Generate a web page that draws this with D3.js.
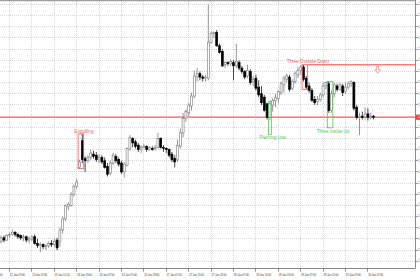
<!DOCTYPE html>
<html><head><meta charset="utf-8">
<script src="https://cdn.jsdelivr.net/npm/d3@7"></script>
<style>html,body{margin:0;padding:0;background:#fff;overflow:hidden}</style>
</head><body>
<svg id="c" width="420" height="280"></svg>
<script>
// ---- data (hourly bars, oldest first) ----
const open = [1.3528,1.3531,1.3529,1.3533,1.3534,1.3536,1.3534,1.3533,1.3531,1.3532,1.3529,1.3530,1.3532,1.3526,1.3524,1.3525,1.3523,1.3524,1.3526,1.3525,1.3529,1.3528,1.3538,1.3548,1.3559,1.3560,1.3570,1.3577,1.3594,1.3618,1.3602,1.3600,1.3603,1.3606,1.3605,1.3601,1.3603,1.3600,1.3595,1.3589,1.3598,1.3604,1.3601,1.3598,1.3590,1.3596,1.3611,1.3620,1.3617,1.3614,1.3610,1.3612,1.3613,1.3610,1.3611,1.3611,1.3612,1.3620,1.3612,1.3611,1.3610,1.3606,1.3602,1.3601,1.3613,1.3625,1.3638,1.3643,1.3649,1.3658,1.3675,1.3678,1.3675,1.3674,1.3674,1.3706,1.3714,1.3715,1.3703,1.3698,1.3686,1.3688,1.3687,1.3688,1.3685,1.3688,1.3683,1.3680,1.3676,1.3680,1.3671,1.3674,1.3666,1.3660,1.3657,1.3651,1.3639,1.3650,1.3654,1.3656,1.3661,1.3668,1.3673,1.3675,1.3665,1.3671,1.3677,1.3681,1.3684,1.3674,1.3667,1.3663,1.3655,1.3653,1.3655,1.3659,1.3667,1.3669,1.3645,1.3660,1.3667,1.3664,1.3667,1.3662,1.3666,1.3669,1.3670,1.3648,1.3639,1.3640,1.3639,1.3642,1.3639,1.3640];
const high = [1.3533,1.3533,1.3534,1.3536,1.3538,1.3537,1.3535,1.3534,1.3534,1.3533,1.3532,1.3533,1.3534,1.3530,1.3527,1.3526,1.3525,1.3528,1.3529,1.3530,1.3531,1.3540,1.3550,1.3561,1.3563,1.3572,1.3579,1.3584,1.3601,1.3624,1.3604,1.3605,1.3610,1.3609,1.3608,1.3606,1.3605,1.3603,1.3598,1.3600,1.3607,1.3606,1.3603,1.3600,1.3599,1.3612,1.3623,1.3621,1.3619,1.3616,1.3614,1.3615,1.3614,1.3613,1.3613,1.3614,1.3625,1.3621,1.3614,1.3612,1.3611,1.3608,1.3605,1.3619,1.3629,1.3643,1.3646,1.3652,1.3661,1.3681,1.3683,1.3680,1.3677,1.3677,1.3740,1.3716,1.3716,1.3717,1.3705,1.3700,1.3689,1.3689,1.3691,1.3690,1.3705,1.3690,1.3685,1.3681,1.3686,1.3682,1.3676,1.3677,1.3672,1.3667,1.3659,1.3652,1.3653,1.3656,1.3660,1.3663,1.3671,1.3676,1.3678,1.3677,1.3673,1.3680,1.3684,1.3686,1.3686,1.3676,1.3670,1.3665,1.3658,1.3658,1.3661,1.3670,1.3671,1.3671,1.3663,1.3670,1.3669,1.3670,1.3669,1.3670,1.3671,1.3672,1.3671,1.3650,1.3643,1.3644,1.3648,1.3647,1.3643,1.3641];
const low = [1.3526,1.3527,1.3528,1.3531,1.3533,1.3532,1.3530,1.3529,1.3528,1.3527,1.3526,1.3528,1.3525,1.3522,1.3518,1.3521,1.3520,1.3522,1.3523,1.3523,1.3520,1.3523,1.3535,1.3546,1.3556,1.3559,1.3568,1.3575,1.3593,1.3598,1.3590,1.3598,1.3601,1.3602,1.3599,1.3598,1.3597,1.3593,1.3586,1.3587,1.3596,1.3598,1.3595,1.3588,1.3585,1.3595,1.3609,1.3612,1.3611,1.3608,1.3607,1.3611,1.3608,1.3609,1.3609,1.3609,1.3611,1.3611,1.3608,1.3607,1.3603,1.3599,1.3594,1.3599,1.3611,1.3621,1.3635,1.3640,1.3645,1.3656,1.3671,1.3672,1.3671,1.3671,1.3672,1.3705,1.3710,1.3702,1.3696,1.3684,1.3683,1.3685,1.3685,1.3672,1.3683,1.3681,1.3678,1.3673,1.3674,1.3668,1.3667,1.3663,1.3657,1.3650,1.3644,1.3637,1.3637,1.3644,1.3648,1.3652,1.3659,1.3661,1.3670,1.3662,1.3663,1.3669,1.3674,1.3677,1.3671,1.3664,1.3661,1.3653,1.3650,1.3650,1.3653,1.3657,1.3664,1.3643,1.3643,1.3657,1.3662,1.3663,1.3658,1.3660,1.3664,1.3666,1.3645,1.3637,1.3623,1.3637,1.3637,1.3636,1.3637,1.3637];
const close = [1.3531,1.3529,1.3533,1.3534,1.3536,1.3534,1.3532,1.3531,1.3532,1.3529,1.3530,1.3532,1.3526,1.3524,1.3525,1.3523,1.3524,1.3526,1.3525,1.3528,1.3522,1.3538,1.3548,1.3560,1.3561,1.3570,1.3577,1.3581,1.3599,1.3601,1.3600,1.3603,1.3607,1.3604,1.3601,1.3603,1.3599,1.3594,1.3588,1.3598,1.3605,1.3600,1.3597,1.3590,1.3597,1.3611,1.3621,1.3616,1.3613,1.3610,1.3612,1.3613,1.3610,1.3612,1.3610,1.3612,1.3620,1.3612,1.3611,1.3610,1.3605,1.3601,1.3599,1.3614,1.3625,1.3638,1.3644,1.3650,1.3658,1.3676,1.3678,1.3675,1.3674,1.3675,1.3706,1.3714,1.3715,1.3703,1.3697,1.3685,1.3688,1.3687,1.3689,1.3685,1.3689,1.3683,1.3680,1.3675,1.3681,1.3670,1.3673,1.3665,1.3659,1.3652,1.3645,1.3639,1.3651,1.3654,1.3657,1.3662,1.3669,1.3674,1.3676,1.3664,1.3671,1.3678,1.3681,1.3684,1.3673,1.3666,1.3663,1.3654,1.3652,1.3655,1.3659,1.3667,1.3670,1.3645,1.3660,1.3668,1.3664,1.3668,1.3661,1.3666,1.3669,1.3671,1.3647,1.3639,1.3640,1.3639,1.3642,1.3639,1.3640,1.3639];

const xTickLabels = ["22 Jan 15:00","22 Jan 23:00","23 Jan 07:00","23 Jan 15:00","23 Jan 23:00","24 Jan 07:00","24 Jan 15:00","24 Jan 23:00","27 Jan 07:00","27 Jan 15:00","27 Jan 23:00","28 Jan 07:00","28 Jan 15:00","28 Jan 23:00","29 Jan 07:00","29 Jan 15:00","29 Jan 23:00","30 Jan 07:00"];
const xTickBars = [-5,3,11,19,27,35,43,51,59,67,75,83,91,99,107,115,123,131];
const priceTicks = [1.3510,1.3520,1.3530,1.3540,1.3550,1.3560,1.3570,1.3580,1.3590,1.3600,1.3610,1.3620,1.3630,1.3640,1.3650,1.3660,1.3670,1.3680,1.3690,1.3700,1.3710,1.3720,1.3730,1.3740];

const levelPrices = [1.3639, 1.3686];
const levelStartBars = [null, 109];
const axisMarkPrice = [1.3639];

const patternNames = ["Engulfing","Piercing Line","Three Outside Down","Three Inside Up"];
const patternFrom = [28, 96, 108, 117];
const patternTo = [29, 96, 109, 118];
const patternBull = [false, true, false, true];

const arrowBars = [134.5];
const arrowPrices = [1.3686];

// ---- drawing ----
const plotRight = 415.5, plotBottom = 268.5;
const RED = "#f25c5c", GREEN = "#55c755", LEVEL = "#f28080";
const svg = d3.select("#c");
const x = d3.scaleLinear().domain([3, 131]).range([9.5, 367.9]);
const y = d3.scaleLinear().domain([1.3504, 1.3744]).range([268, 0]);
const crisp = v => Math.floor(v) + 0.5;

// grid
const grid = svg.append("g").attr("stroke", "#d6d6d6").attr("stroke-width", 1).attr("stroke-dasharray", "1,1");
grid.selectAll(".gx").data(xTickBars).join("line")
  .attr("x1", d => crisp(x(d))).attr("x2", d => crisp(x(d)))
  .attr("y1", 1).attr("y2", plotBottom);
grid.selectAll(".gy").data(priceTicks).join("line")
  .attr("x1", 0).attr("x2", plotRight)
  .attr("y1", d => crisp(y(d))).attr("y2", d => crisp(y(d)));

// level lines
svg.append("g").selectAll("line").data(levelPrices).join("line")
  .attr("x1", (d, i) => levelStartBars[i] === null ? 0 : x(levelStartBars[i]) + 1.4)
  .attr("x2", plotRight)
  .attr("y1", d => y(d)).attr("y2", d => y(d))
  .attr("stroke", LEVEL).attr("stroke-width", 1.6);

// candles
const idx = d3.range(open.length);
const cg = svg.append("g");
cg.selectAll(".wick").data(idx).join("line")
  .attr("x1", i => x(i)).attr("x2", i => x(i))
  .attr("y1", i => y(high[i])).attr("y2", i => y(low[i]))
  .attr("stroke", i => close[i] >= open[i] ? "#7a7a7a" : "#1a1a1a")
  .attr("stroke-width", 0.8);
cg.selectAll(".body").data(idx).join("rect")
  .attr("x", i => x(i) - 1)
  .attr("width", 2)
  .attr("y", i => y(Math.max(open[i], close[i])))
  .attr("height", i => Math.max(0.8, Math.abs(y(open[i]) - y(close[i]))))
  .attr("fill", i => close[i] >= open[i] ? "#ffffff" : "#000000")
  .attr("stroke", i => close[i] >= open[i] ? "#7a7a7a" : "#000000")
  .attr("stroke-width", 0.6);

// patterns
const pg = svg.append("g");
patternNames.forEach((name, p) => {
  const col = patternBull[p] ? GREEN : RED;
  const bars = d3.range(patternFrom[p], patternTo[p] + 1);
  const top = y(d3.max(bars, i => high[i]));
  let bot = y(d3.min(bars, i => low[i]));
  if (patternBull[p]) bot += 15;
  const x0 = x(patternFrom[p]) - 1.4, x1 = x(patternTo[p]) + 1.4;
  pg.append("rect").attr("x", x0).attr("y", top).attr("width", x1 - x0).attr("height", bot - top)
    .attr("fill", "none").attr("stroke", col).attr("stroke-width", 0.8);
  pg.append("text").attr("x", (x0 + x1) / 2 + 3)
    .attr("y", patternBull[p] ? bot + 5 : top - 1.5)
    .attr("text-anchor", "middle").attr("font-family", "Liberation Sans, Arial, sans-serif")
    .attr("font-size", "4.6px").attr("fill", col).text(name);
});

// arrow
svg.append("g").selectAll("path").data(arrowBars).join("path")
  .attr("d", (d, i) => {
    const cx = x(d), t = y(arrowPrices[i]) + 1.5;
    return `M${cx-1},${t} L${cx+1},${t} L${cx+1},${t+3.5} L${cx+2.6},${t+3.5} L${cx},${t+7} L${cx-2.6},${t+3.5} L${cx-1},${t+3.5} Z`;
  })
  .attr("fill", "#fff").attr("stroke", LEVEL).attr("stroke-width", 0.8);

// frame
svg.append("line").attr("x1", 0).attr("x2", plotRight).attr("y1", 0.6).attr("y2", 0.6)
  .attr("stroke", "#a0a0a0").attr("stroke-width", 1.4);

// right price axis
const yAxis = d3.axisRight(y).tickValues(priceTicks).tickSize(2).tickSizeOuter(0).tickPadding(0.4)
  .tickFormat(d3.format(".4f")).offset(0);
const ya = svg.append("g").attr("transform", `translate(${plotRight},0)`).call(yAxis);
ya.select(".domain").attr("stroke", "#8a8a8a");
ya.selectAll(".tick line").attr("stroke", "#8a8a8a").attr("transform", d => `translate(0,${crisp(y(d)) - y(d)})`);
ya.selectAll(".tick text").attr("font-family", "Liberation Sans, Arial, sans-serif").attr("font-size", "2.6px").attr("fill", "#333");

// price marker on axis
const pm = svg.append("g").selectAll("g").data(axisMarkPrice).join("g");
pm.append("rect").attr("x", plotRight).attr("y", d => y(d) - 2.6).attr("width", 12).attr("height", 5.2).attr("fill", "#e84848");
pm.append("text").attr("x", plotRight + 2.4).attr("y", d => y(d)).attr("dy", "0.35em")
  .attr("font-family", "Liberation Sans, Arial, sans-serif").attr("font-size", "2.6px").attr("fill", "#fff")
  .text(d => d3.format(".4f")(d));

// bottom time axis
const xAxis = d3.axisBottom(x).tickValues(xTickBars).tickSize(3).tickSizeOuter(0).tickPadding(3)
  .tickFormat((d, i) => xTickLabels[i]).offset(0);
const xa = svg.append("g").attr("transform", `translate(0,${plotBottom})`).call(xAxis);
xa.select(".domain").remove();
xa.selectAll(".tick line").attr("stroke", "#8a8a8a").attr("transform", d => `translate(${crisp(x(d)) - x(d)},0)`);
xa.selectAll(".tick text").attr("text-anchor", "start").attr("dx", "0.3")
  .attr("font-family", "Liberation Sans, Arial, sans-serif").attr("font-size", "2.6px").attr("fill", "#333");
svg.append("line").attr("x1", 0).attr("x2", plotRight).attr("y1", plotBottom).attr("y2", plotBottom)
  .attr("stroke", "#8a8a8a").attr("stroke-width", 1);
</script>
</body></html>
